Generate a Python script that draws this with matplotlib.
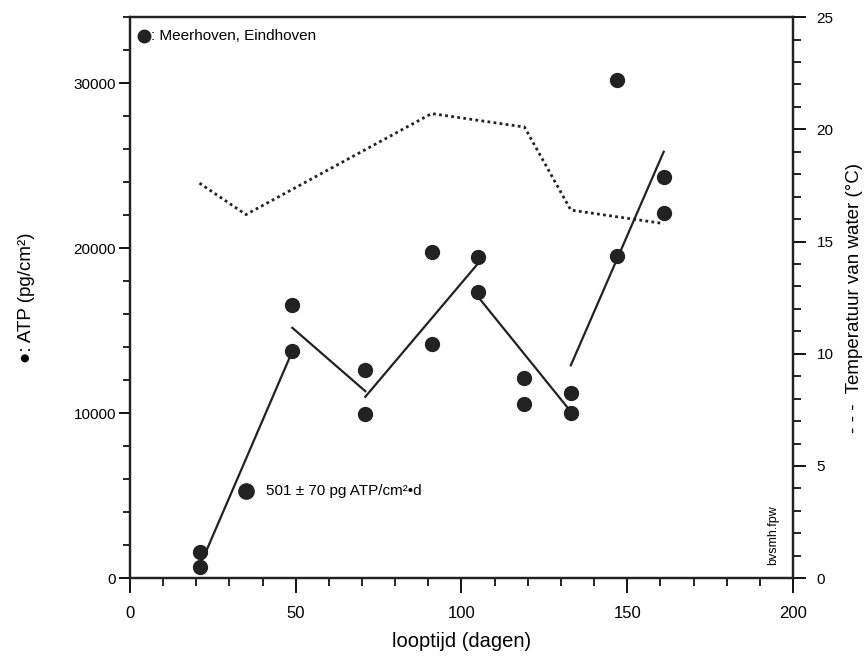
import matplotlib.pyplot as plt
from matplotlib.ticker import MultipleLocator

plt.rcParams['font.family'] = ['Liberation Sans', 'DejaVu Sans']

# ATP op de dragers (pg/cm2), twee waarnemingen per meetdag
dagen = [21, 21, 49, 49, 71, 71, 91, 91, 105, 105, 119, 119, 133, 133, 147, 147, 161, 161]
atp = [1600, 650, 16550, 13750, 12600, 9930, 19780, 14180, 19440, 17320,
       12100, 10560, 11190, 9980, 30180, 19540, 24280, 22100]

# lineaire trajecten tussen de meetdagen (begin, eind)
traject_x = [(21, 49), (49, 71), (71, 105), (105, 133), (133, 161)]
traject_y = [(700, 13750), (15170, 11330), (10990, 19070), (17050, 10090), (12900, 25840)]

# watertemperatuur (graden C)
temp_dagen = [21, 35, 91, 119, 133, 161]
temp = [17.6, 16.2, 20.7, 20.1, 16.4, 15.8]

kleur = '#222222'

fig = plt.figure(figsize=(8.66, 6.57), dpi=100)
ax = fig.add_axes([0.150, 0.120, 0.7657, 0.854])
ax2 = ax.twinx()

ax.plot(dagen, atp, 'o', color=kleur, markersize=10, zorder=3)
for tx, ty in zip(traject_x, traject_y):
    ax.plot(tx, ty, '-', color=kleur, lw=1.6)
ax2.plot(temp_dagen, temp, color=kleur, lw=2.0, linestyle=(0, (1, 1.2)))

# helling-annotatie
ax.plot([35], [5300], 'o', color=kleur, markersize=11)
ax.text(41, 5300, '501 ± 70 pg ATP/cm²•d', fontsize=11, va='center', ha='left')

# legenda linksboven
ax.plot([4.3], [32850], 'o', color=kleur, markersize=9)
ax.text(6.3, 32850, ': Meerhoven, Eindhoven', fontsize=11, va='center', ha='left')

ax.text(194, 790, 'bvsmh.fpw', fontsize=9, rotation=90, va='bottom', ha='center')

ax.set_xlim(0, 200)
ax.set_ylim(0, 34000)
ax2.set_ylim(0, 25)

ax.xaxis.set_major_locator(MultipleLocator(50))
ax.xaxis.set_minor_locator(MultipleLocator(10))
ax.yaxis.set_major_locator(MultipleLocator(10000))
ax.yaxis.set_minor_locator(MultipleLocator(2000))
ax2.yaxis.set_major_locator(MultipleLocator(5))
ax2.yaxis.set_minor_locator(MultipleLocator(1))

ax.tick_params(axis='x', which='major', direction='out', length=11, width=1.3, labelsize=12, pad=9)
ax.tick_params(axis='x', which='minor', direction='out', length=6, width=1.2)
ax.tick_params(axis='y', which='major', direction='out', length=8, width=1.3, labelsize=11, pad=2)
ax.tick_params(axis='y', which='minor', direction='out', length=5, width=1.2)
ax2.tick_params(axis='y', which='major', direction='out', length=9, width=1.3, labelsize=11, pad=8)
ax2.tick_params(axis='y', which='minor', direction='out', length=6, width=1.2)

for a in (ax, ax2):
    for s in a.spines.values():
        s.set_linewidth(1.6)
        s.set_color(kleur)

ax.set_xlabel('looptijd (dagen)', fontsize=14.5, labelpad=8)
ax.set_ylabel('●: ATP (pg/cm²)', fontsize=13.5, labelpad=28)
ax2.set_ylabel('- - -  Temperatuur van water (°C)', fontsize=13.5, labelpad=9)

fig.savefig('out.png', dpi=100)
